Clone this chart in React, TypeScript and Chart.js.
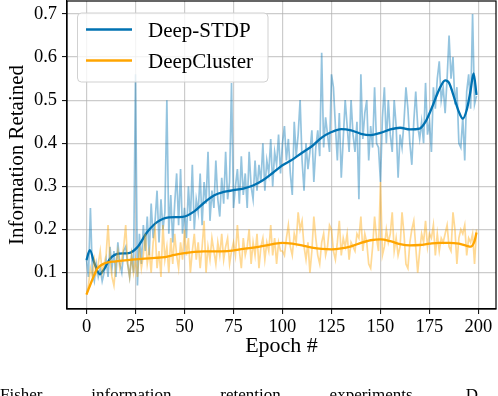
import React, { useEffect, useRef } from "react";
import { Chart, registerables } from "chart.js";

Chart.register(...registerables);

const FONT = "'Liberation Serif', 'Times New Roman', 'DejaVu Serif', serif";

const seriesNames = ["Deep-STDP", "DeepCluster"];
const xTickValues = [0, 25, 50, 75, 100, 125, 150, 175, 200];
const yTickValues = [0.1, 0.2, 0.3, 0.4, 0.5, 0.6, 0.7];

// Raw per-epoch values (epochs 0..199)
const deepStdpRaw = [
  0.13, 0.09, 0.25, 0.10, 0.08, 0.12, 0.09, 0.11, 0.08, 0.10,
  0.13, 0.09, 0.16, 0.11, 0.15, 0.09, 0.17, 0.12, 0.10, 0.15,
  0.16, 0.12, 0.09, 0.14, 0.10, 0.56, 0.07, 0.19, 0.12, 0.21,
  0.15, 0.23, 0.14, 0.26, 0.18, 0.22, 0.29, 0.17, 0.27, 0.20,
  0.24, 0.50, 0.19, 0.28, 0.17, 0.26, 0.33, 0.21, 0.34, 0.19,
  0.25, 0.18, 0.30, 0.22, 0.35, 0.20, 0.27, 0.24, 0.33, 0.21,
  0.31, 0.26, 0.38, 0.22, 0.29, 0.25, 0.36, 0.27, 0.23, 0.32,
  0.26, 0.38, 0.27, 0.31, 0.54, 0.25, 0.30, 0.34, 0.26, 0.37,
  0.28, 0.33, 0.25, 0.38, 0.30, 0.27, 0.36, 0.29, 0.35, 0.31,
  0.40, 0.29, 0.36, 0.33, 0.41, 0.30, 0.38, 0.35, 0.42, 0.33,
  0.40, 0.44, 0.36, 0.41, 0.33, 0.28, 0.45, 0.37, 0.42, 0.50,
  0.36, 0.29, 0.40, 0.34, 0.38, 0.43, 0.31, 0.39, 0.43, 0.37,
  0.61, 0.39, 0.46, 0.42, 0.38, 0.56, 0.53, 0.44, 0.36, 0.47,
  0.32, 0.41, 0.50, 0.44, 0.38, 0.50, 0.42, 0.38, 0.45, 0.27,
  0.56, 0.41, 0.47, 0.50, 0.36, 0.44, 0.39, 0.53, 0.40, 0.39,
  0.31, 0.46, 0.53, 0.40, 0.50, 0.42, 0.38, 0.50, 0.44, 0.32,
  0.42, 0.39, 0.45, 0.53, 0.48, 0.40, 0.35, 0.45, 0.52, 0.44,
  0.41, 0.45, 0.40, 0.54, 0.42, 0.45, 0.38, 0.53, 0.48, 0.55,
  0.59, 0.50, 0.53, 0.47, 0.55, 0.65, 0.55, 0.60, 0.49, 0.53,
  0.40, 0.39, 0.46, 0.36, 0.52, 0.56, 0.48, 0.70, 0.49, 0.51,
];

const deepClusterRaw = [
  0.05, 0.07, 0.11, 0.09, 0.13, 0.10, 0.12, 0.15, 0.10, 0.12,
  0.14, 0.21, 0.13, 0.09, 0.07, 0.12, 0.15, 0.11, 0.13, 0.16,
  0.21, 0.12, 0.09, 0.14, 0.10, 0.13, 0.09, 0.16, 0.11, 0.14,
  0.19, 0.12, 0.15, 0.10, 0.17, 0.20, 0.11, 0.15, 0.09, 0.21,
  0.13, 0.16, 0.10, 0.18, 0.12, 0.19, 0.14, 0.11, 0.17, 0.13,
  0.20, 0.14, 0.18, 0.10, 0.15, 0.19, 0.13, 0.17, 0.11, 0.16,
  0.22, 0.10, 0.16, 0.13, 0.18, 0.15, 0.12, 0.17, 0.14, 0.19,
  0.13, 0.16, 0.18, 0.12, 0.15, 0.17, 0.14, 0.21, 0.15, 0.11,
  0.18, 0.14, 0.16, 0.20, 0.12, 0.17, 0.14, 0.19, 0.11, 0.16,
  0.18, 0.13, 0.17, 0.15, 0.21, 0.14, 0.18, 0.12, 0.17, 0.15,
  0.15, 0.14, 0.18, 0.21, 0.16, 0.14, 0.19, 0.17, 0.24, 0.20,
  0.22, 0.16, 0.13, 0.17, 0.10, 0.15, 0.23, 0.18, 0.14, 0.12,
  0.17, 0.19, 0.14, 0.16, 0.21, 0.20, 0.15, 0.13, 0.17, 0.22,
  0.14, 0.18, 0.16, 0.19, 0.13, 0.17, 0.16, 0.15, 0.19, 0.18,
  0.23, 0.15, 0.19, 0.17, 0.12, 0.11, 0.16, 0.23, 0.18, 0.15,
  0.31, 0.14, 0.16, 0.20, 0.17, 0.19, 0.24, 0.15, 0.18, 0.14,
  0.16, 0.24, 0.19, 0.12, 0.11, 0.17, 0.20, 0.22, 0.16, 0.10,
  0.15, 0.19, 0.17, 0.22, 0.16, 0.19, 0.18, 0.21, 0.14, 0.19,
  0.15, 0.18, 0.17, 0.19, 0.21, 0.16, 0.15, 0.24, 0.20, 0.12,
  0.18, 0.20, 0.19, 0.21, 0.14, 0.18, 0.17, 0.19, 0.12, 0.20,
];

// Smoothed trend, read at selected epochs
const deepStdpTrendEpochs = [
  0, 1.7, 4, 6.8, 9, 12, 16.5, 21.5, 26, 31, 36, 42, 49, 55, 60, 65, 70, 75,
  80, 85, 90, 95, 100, 105, 110, 115, 120, 125, 130, 135, 140, 145, 150, 155,
  160, 165, 170, 173, 176, 180, 183, 185, 188, 190, 192, 194, 196, 197.5, 199,
];
const deepStdpTrendValues = [
  0.129, 0.152, 0.122, 0.096, 0.108, 0.132, 0.144, 0.145, 0.159, 0.194, 0.217,
  0.228, 0.229, 0.242, 0.262, 0.279, 0.287, 0.291, 0.295, 0.302, 0.314, 0.331,
  0.349, 0.362, 0.378, 0.393, 0.413, 0.426, 0.433, 0.43, 0.422, 0.419, 0.424,
  0.432, 0.436, 0.432, 0.434, 0.45, 0.48, 0.525, 0.546, 0.54, 0.5, 0.473,
  0.457, 0.477, 0.523, 0.562, 0.512,
];

const deepClusterTrendEpochs = [
  0, 3, 5.5, 9, 15, 21, 28, 35, 40, 45, 50, 55, 60, 65, 72, 80, 89, 95, 100,
  105, 110, 115, 120, 125, 130, 135, 140, 145, 150, 155, 160, 165, 170, 175,
  180, 185, 190, 194, 196, 198, 199,
];
const deepClusterTrendValues = [
  0.049, 0.084, 0.109, 0.121, 0.126, 0.129, 0.132, 0.134, 0.136, 0.141, 0.145,
  0.148, 0.149, 0.149, 0.15, 0.155, 0.161, 0.166, 0.169, 0.167, 0.163, 0.158,
  0.155, 0.154, 0.156, 0.161, 0.169, 0.175, 0.177, 0.173, 0.166, 0.163, 0.164,
  0.167, 0.169, 0.169, 0.167, 0.162, 0.16, 0.173, 0.193,
];

const BLUE = "rgb(0,114,178)";
const BLUE_RAW = "rgba(0,114,178,0.42)";
const ORANGE = "rgb(255,165,0)";
const ORANGE_RAW = "rgba(255,165,0,0.42)";

const toPoints = (xs: number[], ys: number[]) => ys.map((y, i) => ({ x: xs[i], y }));
const rawPoints = (ys: number[]) => ys.map((y, i) => ({ x: i, y }));

const framePlugin = {
  id: "frameAndLegend",
  afterDraw(chart: any) {
    const { ctx, chartArea } = chart;
    ctx.save();
    ctx.strokeStyle = "#000";
    ctx.lineWidth = 1.2;
    ctx.strokeRect(chartArea.left, chartArea.top, chartArea.right - chartArea.left, chartArea.bottom - chartArea.top);

    // legend (matplotlib style, upper left inside the axes)
    const bx = 77.5, by = 13, bw = 190.5, bh = 69, r = 4;
    ctx.beginPath();
    ctx.moveTo(bx + r, by);
    ctx.lineTo(bx + bw - r, by);
    ctx.quadraticCurveTo(bx + bw, by, bx + bw, by + r);
    ctx.lineTo(bx + bw, by + bh - r);
    ctx.quadraticCurveTo(bx + bw, by + bh, bx + bw - r, by + bh);
    ctx.lineTo(bx + r, by + bh);
    ctx.quadraticCurveTo(bx, by + bh, bx, by + bh - r);
    ctx.lineTo(bx, by + r);
    ctx.quadraticCurveTo(bx, by, bx + r, by);
    ctx.closePath();
    ctx.fillStyle = "rgba(255,255,255,0.8)";
    ctx.fill();
    ctx.strokeStyle = "rgba(204,204,204,0.9)";
    ctx.lineWidth = 1;
    ctx.stroke();

    const entries = [
      { label: seriesNames[0], color: BLUE, y: 29.5 },
      { label: seriesNames[1], color: ORANGE, y: 60.5 },
    ];
    ctx.font = `21px ${FONT}`;
    ctx.textBaseline = "alphabetic";
    ctx.textAlign = "left";
    for (const e of entries) {
      ctx.beginPath();
      ctx.strokeStyle = e.color;
      ctx.lineWidth = 2.3;
      ctx.moveTo(86, e.y);
      ctx.lineTo(132, e.y);
      ctx.stroke();
      ctx.fillStyle = "#000";
      ctx.fillText(e.label, 148, e.y + 7.2);
    }
    ctx.restore();
  },
};

export default function App() {
  const canvasRef = useRef<HTMLCanvasElement | null>(null);

  useEffect(() => {
    document.body.style.margin = "0";
    const canvas = canvasRef.current;
    if (!canvas) return;
    const gridColor = "rgba(176,176,176,0.65)";
    const chart = new Chart(canvas, {
      type: "line",
      data: {
        datasets: [
          {
            label: seriesNames[1],
            data: toPoints(deepClusterTrendEpochs, deepClusterTrendValues),
            borderColor: ORANGE,
            borderWidth: 2.3,
            pointRadius: 0,
            cubicInterpolationMode: "monotone",
          },
          {
            label: seriesNames[1] + " raw",
            data: rawPoints(deepClusterRaw),
            borderColor: ORANGE_RAW,
            borderWidth: 1.7,
            pointRadius: 0,
            tension: 0,
          },
          {
            label: seriesNames[0],
            data: toPoints(deepStdpTrendEpochs, deepStdpTrendValues),
            borderColor: BLUE,
            borderWidth: 2.3,
            pointRadius: 0,
            cubicInterpolationMode: "monotone",
          },
          {
            label: seriesNames[0] + " raw",
            data: rawPoints(deepStdpRaw),
            borderColor: BLUE_RAW,
            borderWidth: 1.7,
            pointRadius: 0,
            tension: 0,
          },
        ],
      },
      options: {
        animation: false,
        responsive: false,
        maintainAspectRatio: false,
        layout: { padding: { left: 0, right: 2, top: 1, bottom: 0 } },
        plugins: { legend: { display: false }, tooltip: { enabled: false } },
        scales: {
          x: {
            type: "linear",
            min: -9.95,
            max: 208.95,
            afterBuildTicks: (s: any) => {
              s.ticks = xTickValues.map((v) => ({ value: v }));
            },
            afterFit: (s: any) => {
              s.height = 87;
              s.paddingLeft = 0;
              s.paddingRight = 0;
              s.paddingTop = 0;
              s.paddingBottom = 0;
            },
            ticks: {
              font: { family: FONT, size: 18.5 },
              color: "#000",
              padding: 2,
              autoSkip: false,
              maxRotation: 0,
              callback: (v: any) => String(v),
            },
            grid: { color: gridColor, lineWidth: 1.2, tickColor: "#000", tickLength: 5, tickWidth: 1, drawTicks: true },
            border: { display: true, color: "#000", width: 1.2 },
            title: {
              display: true,
              text: "Epoch #",
              font: { family: FONT, size: 22 },
              color: "#000",
              padding: { top: 0, bottom: 37 },
            },
          },
          y: {
            type: "linear",
            min: 0.0155,
            max: 0.73,
            afterBuildTicks: (s: any) => {
              s.ticks = yTickValues.map((v) => ({ value: v }));
            },
            afterFit: (s: any) => {
              s.width = 67;
              s.paddingLeft = 0;
              s.paddingRight = 0;
              s.paddingTop = 0;
              s.paddingBottom = 0;
            },
            ticks: {
              font: { family: FONT, size: 18.5 },
              color: "#000",
              padding: 5,
              autoSkip: false,
              callback: (v: any) => Number(v).toFixed(1),
            },
            grid: { color: gridColor, lineWidth: 1.2, tickColor: "#000", tickLength: 5, tickWidth: 1, drawTicks: true },
            border: { display: true, color: "#000", width: 1.2 },
            title: {
              display: true,
              text: "Information Retained",
              font: { family: FONT, size: 21 },
              color: "#000",
              padding: { top: 5, bottom: 0 },
            },
          },
        },
      },
      plugins: [framePlugin],
    } as any);
    return () => chart.destroy();
  }, []);

  return (
    <div style={{ position: "relative", width: 498, height: 396, overflow: "hidden", background: "#fff" }}>
      <canvas ref={canvasRef} width={498} height={396} style={{ display: "block", width: 498, height: 396 }} />
      <div
        style={{
          position: "absolute",
          left: 0,
          top: 386,
          width: 478,
          fontFamily: FONT,
          fontSize: 17,
          lineHeight: 1,
          whiteSpace: "nowrap",
          textAlign: "justify",
          textAlignLast: "justify",
          color: "#000",
        } as any}
      >
        Fisher information retention experiments. D
      </div>
    </div>
  );
}
